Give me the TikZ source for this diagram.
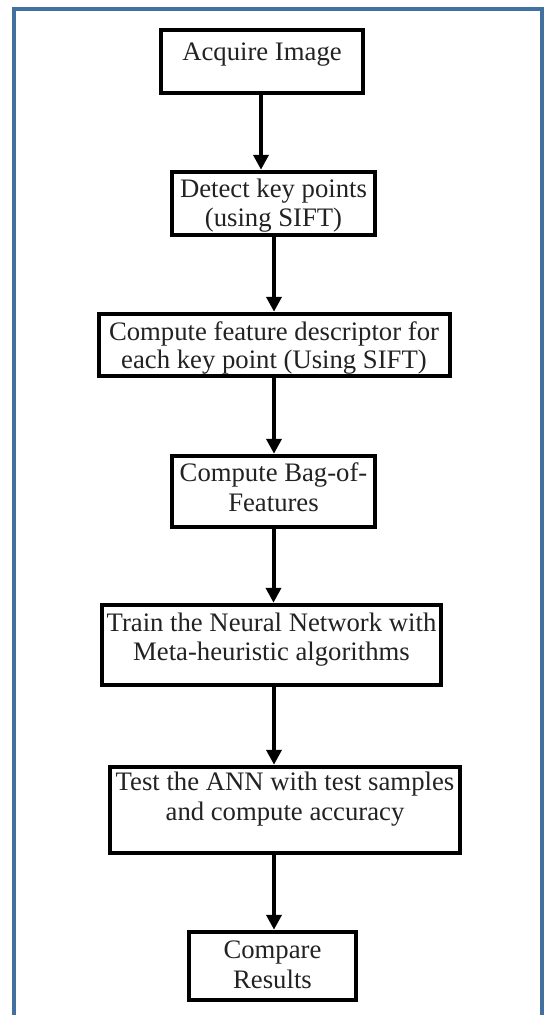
\documentclass[tikz,border=0pt]{standalone}
\usepackage{fontspec}
\setmainfont{Liberation Serif}
\usetikzlibrary{arrows.meta}
\definecolor{framecol}{HTML}{4271A0}
\definecolor{txtcol}{HTML}{222222}
\tikzset{
  stepbox/.style={draw=black, line width=4.5pt, inner sep=0pt, fill=white},
  txt/.style={text=txtcol, font=\fontsize{26.7}{30}\selectfont, inner sep=0pt, anchor=base, align=center},
  arr/.style={draw=black, line width=4pt, -{Triangle[width=15pt,length=15pt]}},
  framestyle/.style={draw=framecol, line width=4pt}
}
\begin{document}
\begin{tikzpicture}[x=1pt,y=-1pt]
\useasboundingbox (0,0) rectangle (544,1015);
\draw[framestyle] (14,1015) -- (14,9) -- (541.5,9) -- (541.5,1015);
% boxes
\node[stepbox, minimum width=202pt, minimum height=63pt] (b1) at (262,61.5) {};
\node[stepbox, minimum width=203pt, minimum height=63pt] (b2) at (273.5,203.5) {};
\node[stepbox, minimum width=351pt, minimum height=62pt] (b3) at (274.5,345) {};
\node[stepbox, minimum width=203pt, minimum height=71pt] (b4) at (273.5,491.5) {};
\node[stepbox, minimum width=339pt, minimum height=80pt] (b5) at (271.5,645) {};
\node[stepbox, minimum width=350pt, minimum height=86pt] (b6) at (285,810) {};
\node[stepbox, minimum width=167pt, minimum height=68pt] (b7) at (272.5,966) {};
% texts
\node[txt] (t1) at (262,60) {Acquire Image};
\node[txt] (t2a) at (273.5,197) {Detect key points};
\node[txt] (t2b) at (273.5,226) {(using SIFT)};
\node[txt] (t3a) at (274,340) {Compute feature descriptor for};
\node[txt] (t3b) at (274,368) {each key point (Using SIFT)};
\node[txt] (t4a) at (273.5,481) {Compute Bag-of-};
\node[txt] (t4b) at (273.5,511) {Features};
\node[txt] (t5a) at (271.5,631) {Train the Neural Network with};
\node[txt] (t5b) at (271.5,660) {Meta-heuristic algorithms};
\node[txt] (t6a) at (285,790) {Test the ANN with test samples};
\node[txt] (t6b) at (285,820) {and compute accuracy};
\node[txt] (t7a) at (272.5,958) {Compare};
\node[txt] (t7b) at (272.5,988) {Results};
% arrows
\coordinate (a1) at ([xshift=-1pt]b1.south);
\draw[arr] (a1) -- (a1 |- b2.north);
\coordinate (a2) at ([xshift=0.5pt]b2.south);
\draw[arr] (a2) -- (a2 |- b3.north);
\coordinate (a3) at ([xshift=-0.5pt]b3.south);
\draw[arr] (a3) -- (a3 |- b4.north);
\coordinate (a4) at ([xshift=0pt]b4.south);
\draw[arr] (a4) -- (a4 |- b5.north);
\coordinate (a5) at ([xshift=2.5pt]b5.south);
\draw[arr] (a5) -- (a5 |- b6.north);
\coordinate (a6) at ([xshift=-11pt]b6.south);
\draw[arr] (a6) -- (a6 |- b7.north);
\end{tikzpicture}
\end{document}
